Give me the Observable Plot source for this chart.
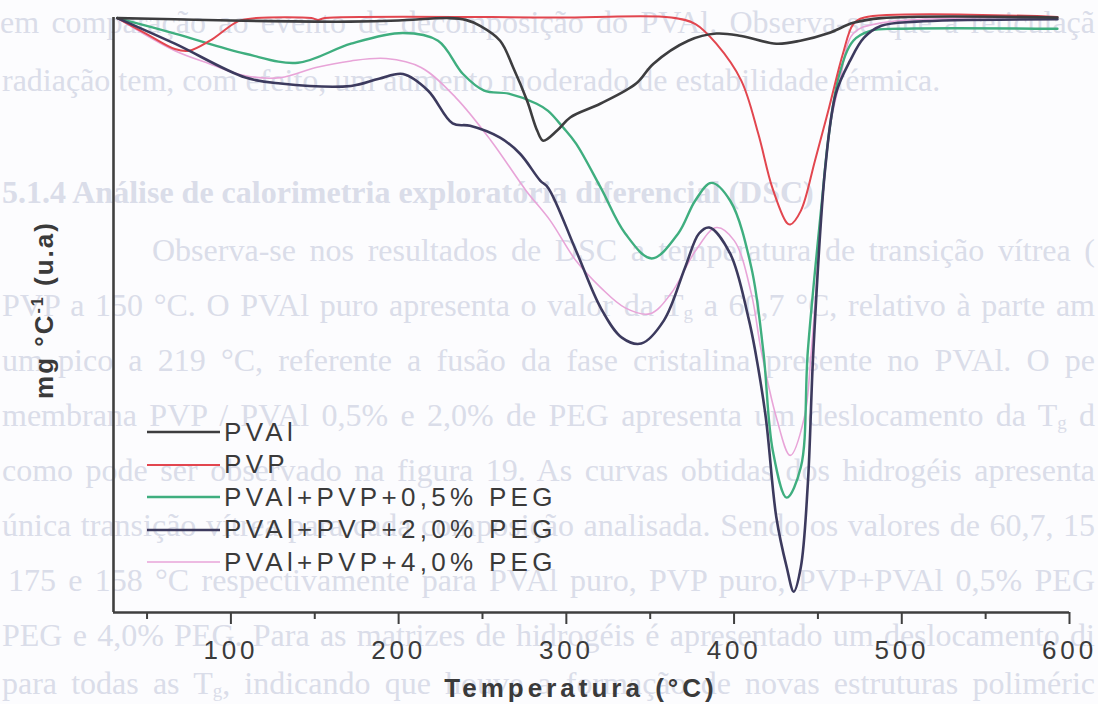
<!DOCTYPE html>
<html><head><meta charset="utf-8">
<script src="https://cdn.jsdelivr.net/npm/d3@7"></script>
<script src="https://cdn.jsdelivr.net/npm/@observablehq/plot@0.6"></script>
<style>
html,body{margin:0;padding:0;background:#fcfcfe;}
#wrap{position:relative;width:1098px;height:704px;overflow:hidden;}
#bg{position:absolute;left:0;top:0;width:1098px;height:704px;font-family:"Liberation Serif","Times New Roman",serif;font-size:32px;color:#dadde9;}
#bg .ln{position:absolute;height:36px;line-height:36px;white-space:nowrap;}
#bg .hd{font-weight:bold;}
#bg sub{font-size:19px;line-height:19px;vertical-align:-3px;}
#chart{position:absolute;left:0;top:0;}
#legend{position:absolute;left:147px;top:0;font-family:"Liberation Sans",Arial,sans-serif;font-size:26px;letter-spacing:4.3px;color:#3a3a3a;}
#legend .row{position:absolute;left:0;height:32px;display:flex;align-items:center;white-space:nowrap;}
#legend svg{margin-right:4px;}
#ylab{position:absolute;left:-112px;top:295px;width:300px;height:30px;line-height:30px;text-align:center;transform:rotate(-90deg);font-family:"Liberation Sans",Arial,sans-serif;font-weight:bold;font-size:26px;letter-spacing:2px;color:#3a3a3a;white-space:nowrap;}
#ylab sup{font-size:16px;}
#xlab{position:absolute;left:381px;top:673px;width:400px;height:30px;line-height:30px;text-align:center;font-family:"Liberation Sans",Arial,sans-serif;font-weight:bold;font-size:26px;letter-spacing:4px;color:#3a3a3a;white-space:nowrap;}
</style></head>
<body>
<div id="wrap">
  <div id="bg"></div>
  <div id="chart"></div>
  <div id="legend"></div>
  <div id="ylab">mg °C<sup>-1</sup> (u.a)</div>
  <div id="xlab">Temperatura (°C)</div>
</div>
<script>
// ---- data (temperature °C, signal in arbitrary units) ----
const pvalT = [32.3, 66.6, 100, 150.7, 171, 200, 230.1, 240, 248.6, 260.5, 268.3, 276.6, 282.6, 286.2, 294.5, 302.3, 320.2, 341.6, 351.8, 372.7, 389.4, 404.3, 425.2, 439.5, 456.6, 471.1, 487.8, 592.8];
const pvalV = [-0.1, -0.3, -0.5, -0.7, -0.7, -0.5, -0.1, -0.4, -1.4, -3.9, -8.4, -14.0, -19.0, -20.7, -19.0, -16.8, -14.5, -11.1, -7.8, -3.9, -2.7, -3.1, -4.4, -3.9, -2.6, -0.9, -0.1, 0];

const pvpT = [32.3, 49.3, 66.6, 74.9, 87.5, 104.5, 115, 148, 151.9, 156, 300, 362.5, 377, 389.4, 404.3, 414.4, 422.8, 431.4, 433.5, 439.8, 448.2, 456.6, 464.9, 471.1, 477.7, 592.8];
const pvpV = [-0.1, -2.7, -5.3, -5.6, -3.9, -0.6, -0.1, -0.1, -0.4, -0.1, 0, 0, -1.1, -4.4, -10.6, -19.5, -28.6, -34.5, -34.8, -32.5, -24.1, -15.2, -6.1, -1.1, 0, 0.1];

const peg05T = [32.3, 66.6, 108.7, 140.0, 171.6, 202.6, 223.5, 238.4, 251.0, 265.6, 282.3, 289.1, 298.1, 305.8, 320.5, 335.1, 350.9, 366.7, 376.8, 386.4, 397.7, 410.3, 417.4, 423.1, 431.4, 439.8, 444.0, 452.4, 456.6, 462.8, 471.1, 481.7, 498.6, 592.8];
const peg05V = [-0.1, -2.7, -6.1, -7.6, -4.4, -2.6, -3.9, -9.5, -12.3, -12.8, -14.5, -15.7, -18.5, -21.2, -28.6, -36.3, -40.5, -36.3, -30.8, -27.8, -30.8, -42.0, -56.0, -72.8, -80.7, -75.6, -56.0, -30.8, -19.5, -9.5, -3.9, -2.2, -1.9, -1.9];

const peg20T = [32.3, 66.6, 108.7, 129.6, 171.6, 188.3, 202.6, 217.6, 232.2, 242.6, 260.5, 272.4, 284.4, 289.1, 305.8, 320.5, 333.1, 344.6, 358.2, 370.8, 379.1, 385.2, 397.7, 408.5, 412.6, 418.9, 425.2, 431.4, 435.6, 439.8, 444.0, 447.3, 454.4, 460.7, 469.1, 477.5, 487.8, 508.7, 592.8];
const peg20V = [-0.1, -4.4, -10.1, -11.1, -11.5, -10.3, -9.5, -12.3, -17.8, -18.2, -20.2, -22.9, -27.4, -28.6, -39.2, -48.8, -53.8, -54.8, -50.9, -42.0, -36.3, -35.3, -39.7, -50.4, -56.0, -67.2, -84.0, -92.4, -96.5, -92.4, -78.3, -56.0, -25.2, -12.8, -7.3, -3.4, -1.4, -0.7, -0.3];

const peg40T = [32.3, 66.6, 87.5, 108.7, 129.6, 150.7, 171.6, 192.5, 213.4, 234.2, 255.1, 276.0, 290.3, 305.8, 320.5, 335.1, 349.8, 362.4, 377.0, 389.4, 400.1, 410.3, 416.2, 425.2, 433.5, 441.9, 446.1, 456.6, 462.8, 471.1, 487.8, 592.8];
const peg40V = [-0.1, -5.6, -7.8, -9.8, -10.1, -8.4, -7.3, -6.9, -8.4, -13.5, -20.7, -29.1, -34.1, -40.9, -45.4, -48.8, -49.8, -46.4, -39.2, -35.3, -37.5, -46.4, -56.0, -67.2, -73.6, -67.2, -56.0, -19.5, -11.1, -2.7, -0.9, 0];

const seriesNames = ["PVAl", "PVP", "PVAl+PVP+0,5% PEG", "PVAl+PVP+2,0% PEG", "PVAl+PVP+4,0% PEG"];
const seriesColors = ["#3d3d3f", "#e2464f", "#3fae7f", "#3c3a5e", "#e8a4d8"];
const seriesWidths = [2.6, 2.0, 2.4, 2.6, 1.6];
const majorTicks = [100, 200, 300, 400, 500, 600];
const minorTicks = [50, 150, 250, 350, 450, 550];

const seriesT = [pvalT, pvpT, peg05T, peg20T, peg40T];
const seriesV = [pvalV, pvpV, peg05V, peg20V, peg40V];

const bgLines = [
  {x: 0, b: 33, just: true, cls: "", html: "em comparação ao evento de decomposição do PVAl. Observa-se que a reticulaçã"},
  {x: 2, b: 91, just: false, cls: "", html: "radiação tem, com efeito, um aumento moderado de estabilidade térmica."},
  {x: 2, b: 203, just: false, cls: "hd", html: "5.1.4 Análise de calorimetria exploratória diferencial (DSC)"},
  {x: 152, b: 261, just: true, cls: "", html: "Observa-se nos resultados de DSC a temperatura de transição vítrea ("},
  {x: 2, b: 316, just: true, cls: "", html: "PVP a 150 °C. O PVAl puro apresenta o valor da T<sub>g</sub> a 60,7 °C, relativo à parte am"},
  {x: 2, b: 371, just: true, cls: "", html: "um pico a 219 °C, referente a fusão da fase cristalina presente no PVAl. O pe"},
  {x: 2, b: 426, just: true, cls: "", html: "membrana PVP / PVAl 0,5% e 2,0% de PEG apresenta um deslocamento da T<sub>g</sub> d"},
  {x: 2, b: 481, just: true, cls: "", html: "como pode ser observado na figura 19. As curvas obtidas dos hidrogéis apresenta"},
  {x: 2, b: 536, just: true, cls: "", html: "única transição vítrea para cada composição analisada. Sendo os valores de 60,7, 15"},
  {x: 8, b: 591, just: true, cls: "", html: "175 e 158 °C respectivamente para PVAl puro, PVP puro, PVP+PVAl 0,5% PEG"},
  {x: 2, b: 646, just: true, cls: "", html: "PEG e 4,0% PEG. Para as matrizes de hidrogéis é apresentado um deslocamento di"},
  {x: 2, b: 694, just: true, cls: "", html: "para todas as T<sub>g</sub>, indicando que houve a formação de novas estruturas poliméric"}
];

// ---- background page text (scan bleed), justified to the page edge ----
const bg = document.getElementById("bg");
bgLines.forEach(l => {
  const d = document.createElement("div");
  d.className = "ln " + l.cls;
  d.style.left = l.x + "px";
  d.style.top = (l.b - 29) + "px";
  d.innerHTML = l.html;
  bg.appendChild(d);
  const target = 1095 - l.x;
  const w = d.getBoundingClientRect().width;
  const chars = d.textContent.length;
  const spaces = (d.textContent.match(/ /g) || []).length;
  if (w > target) {
    d.style.letterSpacing = ((target - w) / chars) + "px";
  } else if (l.just && spaces > 0) {
    d.style.wordSpacing = ((target - w) / spaces) + "px";
  }
});

// ---- chart ----
const rows = [];
seriesNames.forEach((name, k) => {
  seriesT[k].forEach((t, i) => rows.push({series: name, T: t, v: seriesV[k][i]}));
});
const drawOrder = [4, 2, 1, 3, 0];
const lineMarks = drawOrder.map(k => Plot.line(rows.filter(r => r.series === seriesNames[k]), {
  x: "T", y: "v", stroke: seriesColors[k], strokeWidth: seriesWidths[k], curve: "catmull-rom"
}));

const chart = Plot.plot({
  width: 1098,
  height: 704,
  marginLeft: 113,
  marginRight: 29,
  marginTop: 17,
  marginBottom: 92,
  x: {domain: [30, 600]},
  y: {domain: [-100, 0], axis: null},
  style: {background: "transparent", fontFamily: "'Liberation Sans', Arial, sans-serif", fontSize: "26px", letterSpacing: "3.8px", color: "#3a3a3a", overflow: "visible"},
  marks: [
    ...lineMarks,
    Plot.ruleX([30], {stroke: "#3f3f3f", strokeWidth: 2.6}),
    Plot.ruleY([-100], {stroke: "#3f3f3f", strokeWidth: 2.6}),
    Plot.axisX(majorTicks, {tickSize: 12, tickPadding: 16, stroke: "#3f3f3f", strokeWidth: 2, label: null, tickFormat: d => String(d)}),
    Plot.axisX(minorTicks, {tickSize: 7, stroke: "#3f3f3f", strokeWidth: 2, label: null, tickFormat: () => ""})
  ]
});
document.getElementById("chart").appendChild(chart);

// ---- legend ----
const legend = document.getElementById("legend");
const rowCenters = [432, 464.5, 497, 529.5, 562];
seriesNames.forEach((name, k) => {
  const r = document.createElement("div");
  r.className = "row";
  r.style.top = (rowCenters[k] - 16) + "px";
  r.innerHTML = `<svg width="73" height="6"><line x1="0" x2="73" y1="3" y2="3" stroke="${seriesColors[k]}" stroke-width="${seriesWidths[k]}"/></svg><span>${name}</span>`;
  legend.appendChild(r);
});
</script>
</body></html>
